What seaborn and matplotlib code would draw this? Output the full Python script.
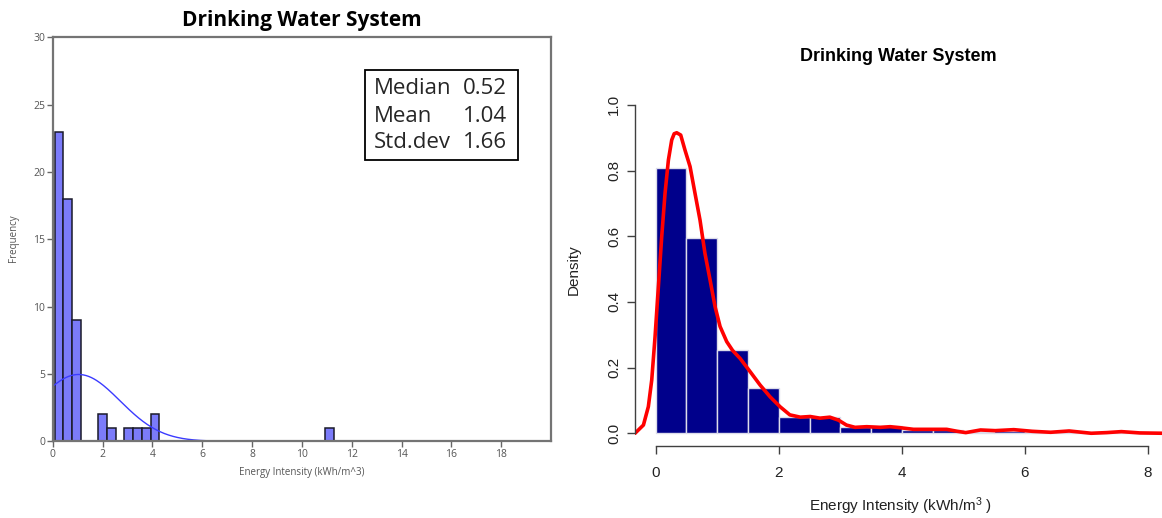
import numpy as np
import pandas as pd
import matplotlib
matplotlib.use("Agg")
import matplotlib.pyplot as plt
import seaborn as sns
from matplotlib.patches import Rectangle

# ---------------- data: left panel (frequency histogram) ----------------
left_bin_start = 0.08
left_bin_width = 0.35
left_bin_index = [0, 1, 2, 5, 6, 8, 9, 10, 11, 31]
left_counts = [23, 18, 9, 2, 1, 1, 1, 1, 2, 1]
stat_labels = ["Median", "Mean", "Std.dev"]
stat_values = ["0.52", "1.04", "1.66"]
fit_mean = 1.04
fit_sd = 1.66
fit_xmax = 13.77
left_xticks = [0, 2, 4, 6, 8, 10, 12, 14, 16, 18]
left_yticks = [0, 5, 10, 15, 20, 25, 30]

# ---------------- data: right panel (density histogram + kde) ----------------
right_bin_width = 0.5
right_density = [0.809, 0.595, 0.252, 0.137, 0.050, 0.048, 0.019, 0.022,
                 0.010, 0.010, 0.004, 0.006, 0.003, 0.004, 0.002, 0.003]
kde_x = [-0.337, -0.2, -0.12, -0.065, -0.011, 0.043, 0.097, 0.151, 0.206, 0.26,
         0.30, 0.341, 0.406, 0.476, 0.558, 0.639, 0.72, 0.80, 0.883, 0.965,
         1.046, 1.154, 1.25, 1.371, 1.533, 1.696, 1.859, 2.02, 2.18, 2.35,
         2.51, 2.67, 2.83, 2.97, 3.1, 3.24, 3.43, 3.65, 3.81, 3.97,
         4.19, 4.45, 4.73, 4.9, 5.04, 5.28, 5.52, 5.82, 6.12, 6.42,
         6.72, 7.08, 7.33, 7.57, 7.87, 8.25]
kde_y = [0.0, 0.025, 0.081, 0.162, 0.294, 0.446, 0.598, 0.73, 0.832, 0.893,
         0.912, 0.915, 0.908, 0.862, 0.812, 0.73, 0.649, 0.548, 0.467, 0.385,
         0.325, 0.279, 0.252, 0.228, 0.188, 0.147, 0.111, 0.081, 0.056, 0.049,
         0.051, 0.046, 0.049, 0.04, 0.025, 0.018, 0.02, 0.018, 0.02, 0.017,
         0.012, 0.012, 0.012, 0.006, 0.002, 0.01, 0.008, 0.011, 0.006, 0.003,
         0.007, 0.0, 0.002, 0.005, 0.001, 0.0]
right_xticks = [0, 2, 4, 6, 8]
right_yticks = [0.0, 0.2, 0.4, 0.6, 0.8, 1.0]

title_text = "Drinking Water System"

sns.set_theme(style="ticks")
plt.rcParams["font.family"] = ["Open Sans", "DejaVu Sans"]
plt.rcParams["mathtext.default"] = "regular"

fig = plt.figure(figsize=(11.62, 5.18), dpi=100)

# ======================= LEFT PANEL =======================
axL = fig.add_axes([52.7 / 1162, 1 - 441.3 / 518, (551 - 52.7) / 1162, (441.3 - 37.3) / 518])
edges = [float(v) for v in left_bin_start + left_bin_width * np.arange(0, max(left_bin_index) + 2)]
left_df = pd.DataFrame({
    "x": [left_bin_start + left_bin_width * (i + 0.5) for i in left_bin_index],
    "w": left_counts,
})
sns.histplot(data=left_df, x="x", weights="w", bins=edges, ax=axL,
             color="#7b7bfa", edgecolor="#1a1a2a", linewidth=1.1, alpha=1.0)
for p in list(axL.patches):
    if p.get_height() == 0:
        p.remove()

n_total = sum(left_counts)
xs = np.linspace(0, fit_xmax, 400)
ys = n_total * left_bin_width * np.exp(-0.5 * ((xs - fit_mean) / fit_sd) ** 2) / (fit_sd * np.sqrt(2 * np.pi))
sns.lineplot(x=xs, y=ys, ax=axL, color="#3b3bff", linewidth=1.0)

axL.set_xlim(0, 20)
axL.set_ylim(0, 30)
axL.set_xticks(left_xticks)
axL.set_yticks(left_yticks)
axL.tick_params(axis="both", direction="out", length=4, width=1, color="#666666",
                labelsize=7.5, labelcolor="#555555", pad=1.5)
for s in axL.spines.values():
    s.set_visible(True)
    s.set_color("#747474")
    s.set_linewidth(1.6)
axL.set_xlabel("Energy Intensity (kWh/m^3)", fontsize=7, color="#555555")
axL.set_ylabel("Frequency", fontsize=7, color="#555555")
axL.xaxis.set_label_coords(0.5, -0.078)
axL.xaxis.label.set_va("center")
axL.yaxis.set_label_coords(-0.078, 0.503)
axL.yaxis.label.set_va("center")
axL.set_title(title_text, fontsize=15, fontweight="bold", color="black", pad=8)

# statistics box
axL.add_patch(Rectangle((0.627, 0.696), 0.307, 0.223, transform=axL.transAxes,
                        fill=False, edgecolor="black", linewidth=1.3, zorder=5))
for lab, val, yy in zip(stat_labels, stat_values, [0.873, 0.803, 0.739]):
    axL.text(0.645, yy, lab, transform=axL.transAxes, fontsize=16, va="center", ha="left")
    axL.text(0.823, yy, val, transform=axL.transAxes, fontsize=16, va="center", ha="left")

# ======================= RIGHT PANEL =======================
axR = fig.add_axes([635 / 1162, 1 - 446.4 / 518, (1162 - 635) / 1162, (446.4 - 91.7) / 518])
r_edges = [float(v) for v in right_bin_width * np.arange(0, len(right_density) + 1)]
right_df = pd.DataFrame({
    "x": [right_bin_width * (i + 0.5) for i in range(len(right_density))],
    "w": right_density,
})
sns.histplot(data=right_df, x="x", weights="w", bins=r_edges, ax=axR,
             color="#00008b", edgecolor="#dcdcea", linewidth=1.0, alpha=1.0)
for p in list(axR.patches):
    if p.get_height() == 0:
        p.remove()
kde_df = pd.DataFrame({"x": kde_x, "y": kde_y})
sns.lineplot(data=kde_df, x="x", y="y", ax=axR, color="#ff0000", linewidth=2.6,
             estimator=None, solid_joinstyle="round", solid_capstyle="round")

axR.set_xlim(-0.337, 8.23)
axR.set_ylim(-0.04, 1.04)
axR.set_xticks(right_xticks)
axR.set_yticks(right_yticks)
axR.set_xticklabels([str(v) for v in right_xticks])
axR.set_yticklabels(["%.1f" % v for v in right_yticks])
axR.spines["top"].set_visible(False)
axR.spines["right"].set_visible(False)
axR.spines["left"].set_bounds(0, 1.0)
axR.spines["bottom"].set_bounds(0, 8)
for s in ("left", "bottom"):
    axR.spines[s].set_color("#404040")
    axR.spines[s].set_linewidth(1.0)
axR.tick_params(axis="both", direction="out", length=6, width=1, color="#404040",
                labelsize=11, labelcolor="#222222")
axR.tick_params(axis="y", labelrotation=90, pad=4)
axR.tick_params(axis="x", pad=8)
for t in axR.get_yticklabels():
    t.set_family(["Liberation Sans", "DejaVu Sans"])
    t.set_va("center")
for t in axR.get_xticklabels():
    t.set_family(["Liberation Sans", "DejaVu Sans"])
axR.set_xlabel("Energy Intensity (kWh/m$^{3}$ )", fontsize=11, color="#222222",
               family=["Liberation Sans", "DejaVu Sans"])
axR.set_ylabel("Density", fontsize=11, color="#222222",
               family=["Liberation Sans", "DejaVu Sans"])
axR.xaxis.set_label_coords(0.503, -0.168)
axR.xaxis.label.set_va("center")
axR.yaxis.set_label_coords(-0.116, 0.497)
axR.yaxis.label.set_va("center")
axR.set_title(title_text, fontsize=13, fontweight="bold", color="black",
              family=["Liberation Sans", "DejaVu Sans"], pad=22)

fig.savefig("out.png", dpi=100)
